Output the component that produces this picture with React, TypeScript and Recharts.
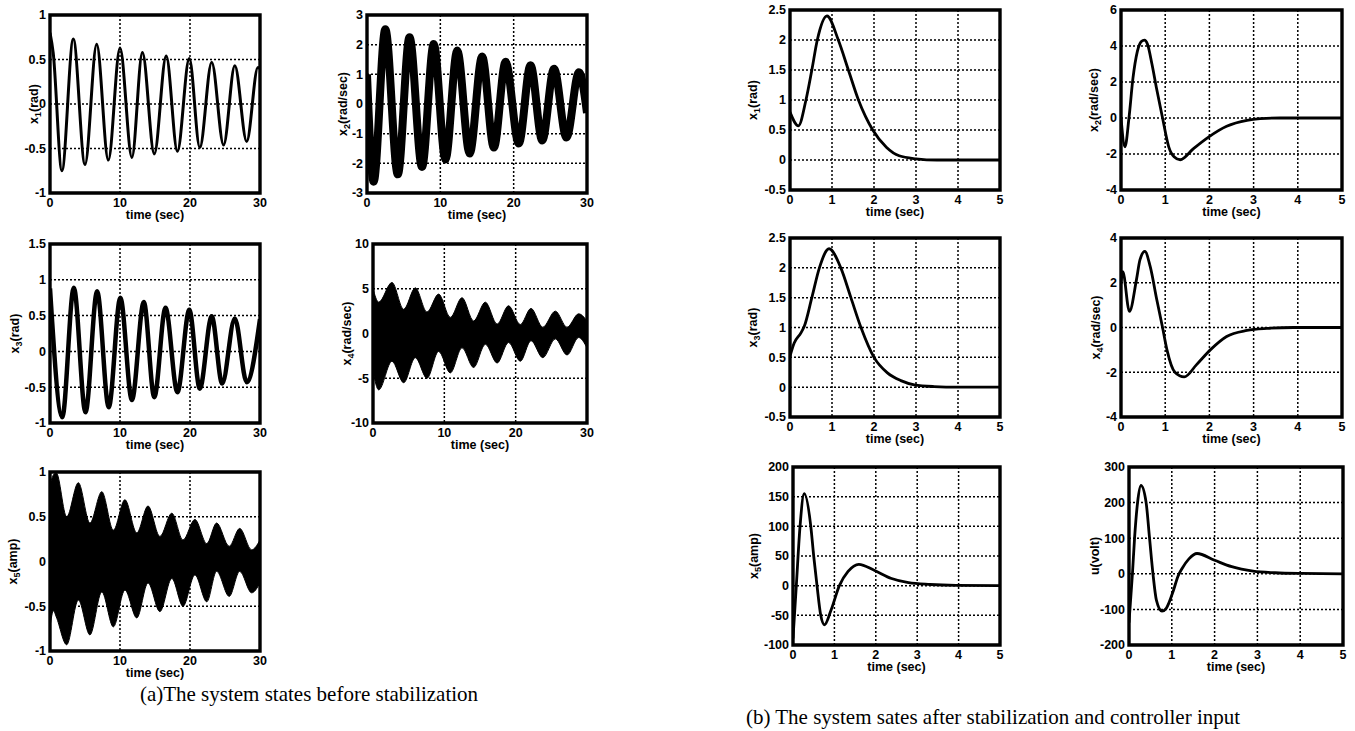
import React from "react";
import {
  ComposedChart,
  Line,
  Area,
  XAxis,
  YAxis,
  CartesianGrid,
  ReferenceArea,
} from "recharts";

// ---- (a) system states before stabilization, time in sec ----
const A_TIME_TICKS = [0, 10, 20, 30];

const A_X1_T = [0, 0.45, 1.7, 3.33, 5.0, 6.67, 8.33, 10.0, 11.7, 13.2, 14.9, 16.6, 18.2, 19.9, 21.4, 23.1, 24.8, 26.4, 28.1, 29.7, 30];
const A_X1 = [0.8, 0.58, -0.75, 0.73, -0.68, 0.67, -0.63, 0.63, -0.6, 0.58, -0.56, 0.54, -0.53, 0.51, -0.49, 0.47, -0.46, 0.43, -0.42, 0.41, 0.4];
const A_X1_TICKS = [-1, -0.5, 0, 0.5, 1];

const A_X2_T = [0, 0.9, 2.5, 4.2, 5.8, 7.5, 9.1, 10.7, 12.3, 14.0, 15.7, 17.3, 18.9, 20.7, 22.3, 23.9, 25.5, 27.2, 28.9, 30];
const A_X2 = [1.0, -2.62, 2.52, -2.37, 2.25, -2.12, 2.02, -1.87, 1.8, -1.67, 1.6, -1.47, 1.42, -1.33, 1.31, -1.23, 1.19, -1.13, 1.07, -0.3];
const A_X2_TICKS = [-3, -2, -1, 0, 1, 2, 3];

const A_X3_T = [0, 1.75, 3.4, 5.07, 6.73, 8.39, 10.05, 11.7, 13.4, 14.9, 16.5, 18.2, 19.9, 21.4, 23.1, 24.6, 26.4, 28.1, 30];
const A_X3 = [0.88, -0.92, 0.89, -0.85, 0.84, -0.78, 0.75, -0.68, 0.69, -0.64, 0.61, -0.57, 0.58, -0.52, 0.49, -0.45, 0.46, -0.43, 0.45];
const A_X3_TICKS = [-1, -0.5, 0, 0.5, 1, 1.5];

const A_X4_T = [0, 0.8, 2.66, 4.3, 5.93, 7.57, 9.2, 10.84, 12.48, 14.1, 15.75, 17.4, 19.0, 20.65, 22.15, 23.8, 25.56, 27.2, 28.83, 30];
const A_X4_HI = [5.0, 3.5, 5.7, 2.7, 5.1, 2.4, 4.4, 1.8, 4.0, 1.4, 3.5, 1.05, 3.1, 1.0, 2.8, 0.7, 2.5, 0.7, 2.2, 1.4];
const A_X4_LO = [-4.2, -6.3, -3.1, -5.5, -2.7, -5.0, -2.0, -4.4, -1.6, -3.8, -1.2, -3.3, -1.0, -3.1, -0.8, -2.7, -0.6, -2.4, -0.45, -1.6];
const A_X4_TICKS = [-10, -5, 0, 5, 10];

const A_X5_T = [0, 0.5, 0.9, 2.38, 4.05, 5.7, 7.4, 9.05, 10.7, 12.4, 14.0, 15.7, 17.4, 19.0, 20.7, 22.4, 23.8, 25.6, 27.1, 28.8, 30];
const A_X5_HI = [0.85, 0.97, 0.99, 0.5, 0.88, 0.43, 0.78, 0.35, 0.69, 0.32, 0.62, 0.28, 0.54, 0.24, 0.47, 0.2, 0.43, 0.17, 0.37, 0.13, 0.24];
const A_X5_LO = [-0.73, -0.55, -0.62, -0.93, -0.43, -0.82, -0.34, -0.73, -0.32, -0.63, -0.24, -0.56, -0.19, -0.5, -0.15, -0.45, -0.11, -0.39, -0.11, -0.35, -0.24];
const A_X5_TICKS = [-1, -0.5, 0, 0.5, 1];

// ---- (b) after stabilization + controller input ----
const B_TIME_TICKS = [0, 1, 2, 3, 4, 5];

const B_X1_T = [0, 0.2, 0.38, 0.52, 0.65, 0.88, 1.15, 1.39, 1.63, 1.97, 2.3, 2.6, 3.0, 3.5, 4.0, 5.0];
const B_X1 = [0.8, 0.57, 1.0, 1.5, 2.0, 2.4, 2.0, 1.5, 1.0, 0.5, 0.21, 0.07, 0.02, 0, 0, 0];
const B_X1_TICKS = [-0.5, 0, 0.5, 1, 1.5, 2, 2.5];

const B_X2_T = [0, 0.09, 0.18, 0.27, 0.37, 0.46, 0.53, 0.6, 0.7, 0.8, 0.94, 1.08, 1.2, 1.34, 1.64, 1.98, 2.39, 2.85, 3.15, 3.6, 5.0];
const B_X2 = [0, -1.6, 0, 2.2, 3.7, 4.25, 4.33, 4.1, 3.0, 1.7, 0, -1.6, -2.15, -2.32, -1.7, -1.06, -0.46, -0.13, -0.04, 0, 0];
const B_X2_TICKS = [-4, -2, 0, 2, 4, 6];

const B_X3_T = [0, 0.1, 0.26, 0.34, 0.52, 0.7, 0.93, 1.21, 1.45, 1.69, 2.0, 2.32, 2.64, 2.96, 3.43, 4.0, 5.0];
const B_X3 = [0.52, 0.74, 0.91, 1.02, 1.5, 2.0, 2.32, 2.0, 1.5, 1.0, 0.5, 0.24, 0.11, 0.04, 0.01, 0, 0];
const B_X3_TICKS = [-0.5, 0, 0.5, 1, 1.5, 2, 2.5];

const B_X4_T = [0, 0.04, 0.19, 0.35, 0.43, 0.54, 0.66, 0.81, 0.94, 1.04, 1.22, 1.43, 1.71, 2.02, 2.39, 2.85, 3.3, 3.9, 5.0];
const B_X4 = [2.0, 2.5, 0.72, 2.14, 3.03, 3.4, 2.73, 1.24, 0, -1.0, -2.0, -2.21, -1.66, -1.0, -0.4, -0.13, -0.04, 0, 0];
const B_X4_TICKS = [-4, -2, 0, 2, 4];

const B_X5_T = [0, 0.08, 0.17, 0.27, 0.43, 0.5, 0.58, 0.67, 0.76, 0.92, 1.12, 1.33, 1.59, 1.96, 2.38, 2.79, 3.31, 3.94, 5.0];
const B_X5 = [-89, 0, 100, 155, 100, 50, 0, -50, -66, -41, 0, 24, 36, 26, 12, 5, 2, 0.5, 0];
const B_X5_TICKS = [-100, -50, 0, 50, 100, 150, 200];

const B_U_T = [0, 0.08, 0.13, 0.2, 0.28, 0.4, 0.48, 0.56, 0.64, 0.77, 0.87, 1.04, 1.14, 1.24, 1.4, 1.59, 2.0, 2.4, 2.9, 3.41, 4.01, 5.0];
const B_U = [-137, 0, 100, 200, 248, 200, 100, 0, -74, -105, -97, -46, -8, 15, 42, 57, 38, 20, 7.5, 3, 1, 0];
const B_U_TICKS = [-200, -100, 0, 100, 200, 300];

const zip = (t: number[], v: number[]) => t.map((x, i) => ({ t: x, v: v[i] }));
const zipBand = (t: number[], lo: number[], hi: number[]) =>
  t.map((x, i) => ({ t: x, band: [lo[i], hi[i]] }));

const FONT = "'Liberation Sans', Arial, Helvetica, sans-serif";
const FS = 12.5;
const ML = 60;
const MR = 10;
const MT = 10;
const MB = 40;

interface SubplotProps {
  x0: number;
  x1: number;
  y0: number;
  y1: number;
  xTicks: number[];
  yTicks: number[];
  name: string;
  sub?: string;
  unit: string;
  labelDx: number;
  children: React.ReactNode;
}

function Subplot({ x0, x1, y0, y1, xTicks, yTicks, name, sub, unit, labelDx, children }: SubplotProps) {
  const pw = x1 - x0;
  const ph = y1 - y0;
  const xd = [xTicks[0], xTicks[xTicks.length - 1]];
  const yd = [yTicks[0], yTicks[yTicks.length - 1]];
  const tick = { fill: "#000", fontSize: FS, fontWeight: 700, fontFamily: FONT };

  // y label drawn rotated, x label under the ticks
  const yLabel = () => {
    const lx = ML + labelDx + 4;
    const ly = MT + ph / 2;
    return (
      <text
        x={lx}
        y={ly}
        transform={`rotate(-90, ${lx}, ${ly})`}
        textAnchor="middle"
        fontFamily={FONT}
        fontWeight={700}
        fontSize={FS}
        fill="#000"
      >
        <tspan>{name}</tspan>
        {sub && (
          <tspan dy={3} fontSize={9}>
            {sub}
          </tspan>
        )}
        <tspan dy={sub ? -3 : 0}>{unit}</tspan>
      </text>
    );
  };
  const xLabel = () => (
    <text
      x={ML + pw / 2}
      y={MT + ph + 26}
      textAnchor="middle"
      fontFamily={FONT}
      fontWeight={700}
      fontSize={FS}
      fill="#000"
    >
      time (sec)
    </text>
  );

  return (
    <div style={{ position: "absolute", left: x0 - ML, top: y0 - MT }}>
      <ComposedChart width={pw + ML + MR} height={ph + MT + MB} margin={{ top: MT, right: MR, bottom: 0, left: 0 }}>
        <CartesianGrid stroke="#000" strokeWidth={1.5} strokeDasharray="2 2" />
        <XAxis
          type="number"
          dataKey="t"
          domain={xd}
          ticks={xTicks}
          interval={0}
          allowDataOverflow
          height={MB}
          axisLine={false}
          tickLine={false}
          tickSize={3}
          tickMargin={2}
          tick={tick}
          label={xLabel}
        />
        <YAxis
          type="number"
          domain={yd}
          ticks={yTicks}
          interval={0}
          allowDataOverflow
          width={ML}
          axisLine={false}
          tickLine={false}
          tickSize={3}
          tickMargin={1}
          tick={tick}
          label={yLabel}
        />
        {children}
        <ReferenceArea
          x1={xd[0]}
          x2={xd[1]}
          y1={yd[0]}
          y2={yd[1]}
          ifOverflow="visible"
          fill="none"
          stroke="#000"
          strokeWidth={3.4}
        />
      </ComposedChart>
    </div>
  );
}

function curve(data: { t: number; v: number }[], w: number) {
  return (
    <Line
      data={data}
      dataKey="v"
      type="monotone"
      stroke="#000"
      strokeWidth={w}
      dot={false}
      activeDot={false}
      isAnimationActive={false}
    />
  );
}

function band(data: { t: number; band: number[] }[]) {
  return (
    <Area
      data={data}
      dataKey="band"
      type="monotone"
      stroke="#000"
      strokeWidth={1}
      fill="#000"
      fillOpacity={1}
      dot={false}
      activeDot={false}
      isAnimationActive={false}
    />
  );
}

const caption: React.CSSProperties = {
  position: "absolute",
  width: 700,
  textAlign: "center",
  fontFamily: "'Liberation Serif', 'Times New Roman', serif",
  fontSize: 21,
  lineHeight: "20px",
  color: "#000",
  whiteSpace: "nowrap",
};

export default function App() {
  return (
    <div style={{ position: "absolute", left: 0, top: 0, width: 1355, height: 731, background: "#fff", overflow: "hidden" }}>
      {/* (a) */}
      <Subplot x0={50} x1={260} y0={15} y1={193} xTicks={A_TIME_TICKS} yTicks={A_X1_TICKS} name="x" sub="1" unit="(rad)" labelDx={-16}>
        {curve(zip(A_X1_T, A_X1), 3)}
      </Subplot>
      <Subplot x0={367} x1={587} y0={15} y1={193} xTicks={A_TIME_TICKS} yTicks={A_X2_TICKS} name="x" sub="2" unit="(rad/sec)" labelDx={-24}>
        {curve(zip(A_X2_T, A_X2), 8)}
      </Subplot>
      <Subplot x0={50} x1={260} y0={244} y1={423} xTicks={A_TIME_TICKS} yTicks={A_X3_TICKS} name="x" sub="3" unit="(rad)" labelDx={-35}>
        {curve(zip(A_X3_T, A_X3), 4.5)}
      </Subplot>
      <Subplot x0={373} x1={587} y0={244} y1={423} xTicks={A_TIME_TICKS} yTicks={A_X4_TICKS} name="x" sub="4" unit="(rad/sec)" labelDx={-26}>
        {band(zipBand(A_X4_T, A_X4_LO, A_X4_HI))}
      </Subplot>
      <Subplot x0={50} x1={260} y0={472} y1={651} xTicks={A_TIME_TICKS} yTicks={A_X5_TICKS} name="x" sub="5" unit="(amp)" labelDx={-37}>
        {band(zipBand(A_X5_T, A_X5_LO, A_X5_HI))}
      </Subplot>

      {/* (b) */}
      <Subplot x0={790} x1={1000} y0={10} y1={190} xTicks={B_TIME_TICKS} yTicks={B_X1_TICKS} name="x" sub="1" unit="(rad)" labelDx={-37}>
        {curve(zip(B_X1_T, B_X1), 2.8)}
      </Subplot>
      <Subplot x0={1121} x1={1342} y0={10} y1={190} xTicks={B_TIME_TICKS} yTicks={B_X2_TICKS} name="x" sub="2" unit="(rad/sec)" labelDx={-27}>
        {curve(zip(B_X2_T, B_X2), 2.8)}
      </Subplot>
      <Subplot x0={790} x1={1000} y0={238} y1={417} xTicks={B_TIME_TICKS} yTicks={B_X3_TICKS} name="x" sub="3" unit="(rad)" labelDx={-37}>
        {curve(zip(B_X3_T, B_X3), 2.8)}
      </Subplot>
      <Subplot x0={1121} x1={1342} y0={238} y1={417} xTicks={B_TIME_TICKS} yTicks={B_X4_TICKS} name="x" sub="4" unit="(rad/sec)" labelDx={-25}>
        {curve(zip(B_X4_T, B_X4), 2.8)}
      </Subplot>
      <Subplot x0={793} x1={1000} y0={467} y1={645} xTicks={B_TIME_TICKS} yTicks={B_X5_TICKS} name="x" sub="5" unit="(amp)" labelDx={-39}>
        {curve(zip(B_X5_T, B_X5), 2.8)}
      </Subplot>
      <Subplot x0={1129} x1={1343} y0={467} y1={645} xTicks={B_TIME_TICKS} yTicks={B_U_TICKS} name="u" unit="(volt)" labelDx={-34}>
        {curve(zip(B_U_T, B_U), 2.8)}
      </Subplot>

      <div style={{ ...caption, left: 309 - 350, top: 684 }}>(a)The system states before stabilization</div>
      <div style={{ ...caption, left: 993 - 350, top: 707 }}>(b) The system sates after stabilization and controller input</div>
    </div>
  );
}
